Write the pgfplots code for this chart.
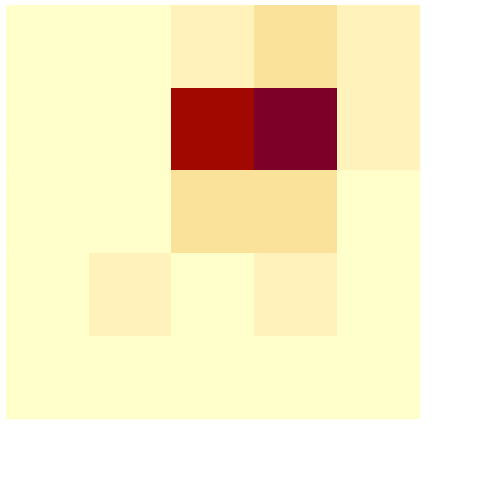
\documentclass[border=0pt]{standalone}
\usepackage{pgfplots}
\pgfplotsset{compat=1.18}
\begin{document}
\begin{tikzpicture}
\begin{axis}[
  at={(0,0)}, anchor=south west,
  scale only axis, width=414pt, height=414pt,
  xmin=-0.5, xmax=4.5, ymin=-0.5, ymax=4.5,
  hide axis,
  colormap={hm}{rgb255(0cm)=(255,255,204); rgb255(1cm)=(255,242,187); rgb255(2cm)=(251,226,155); rgb255(8cm)=(160,8,0); rgb255(9cm)=(125,0,40)},
  point meta min=0, point meta max=9,
]
\addplot[matrix plot, mesh/cols=5, point meta=explicit, shader=flat corner] table[meta=c] {
x y c
0 0 0
1 0 0
2 0 1
3 0 2
4 0 1
0 1 0
1 1 0
2 1 8
3 1 9
4 1 1
0 2 0
1 2 0
2 2 2
3 2 2
4 2 0
0 3 0
1 3 1
2 3 0
3 3 1
4 3 0
0 4 0
1 4 0
2 4 0
3 4 0
4 4 0
};
\end{axis}
\path[use as bounding box] (-6pt,-81pt) rectangle (494pt,419pt);
\end{tikzpicture}
\end{document}
